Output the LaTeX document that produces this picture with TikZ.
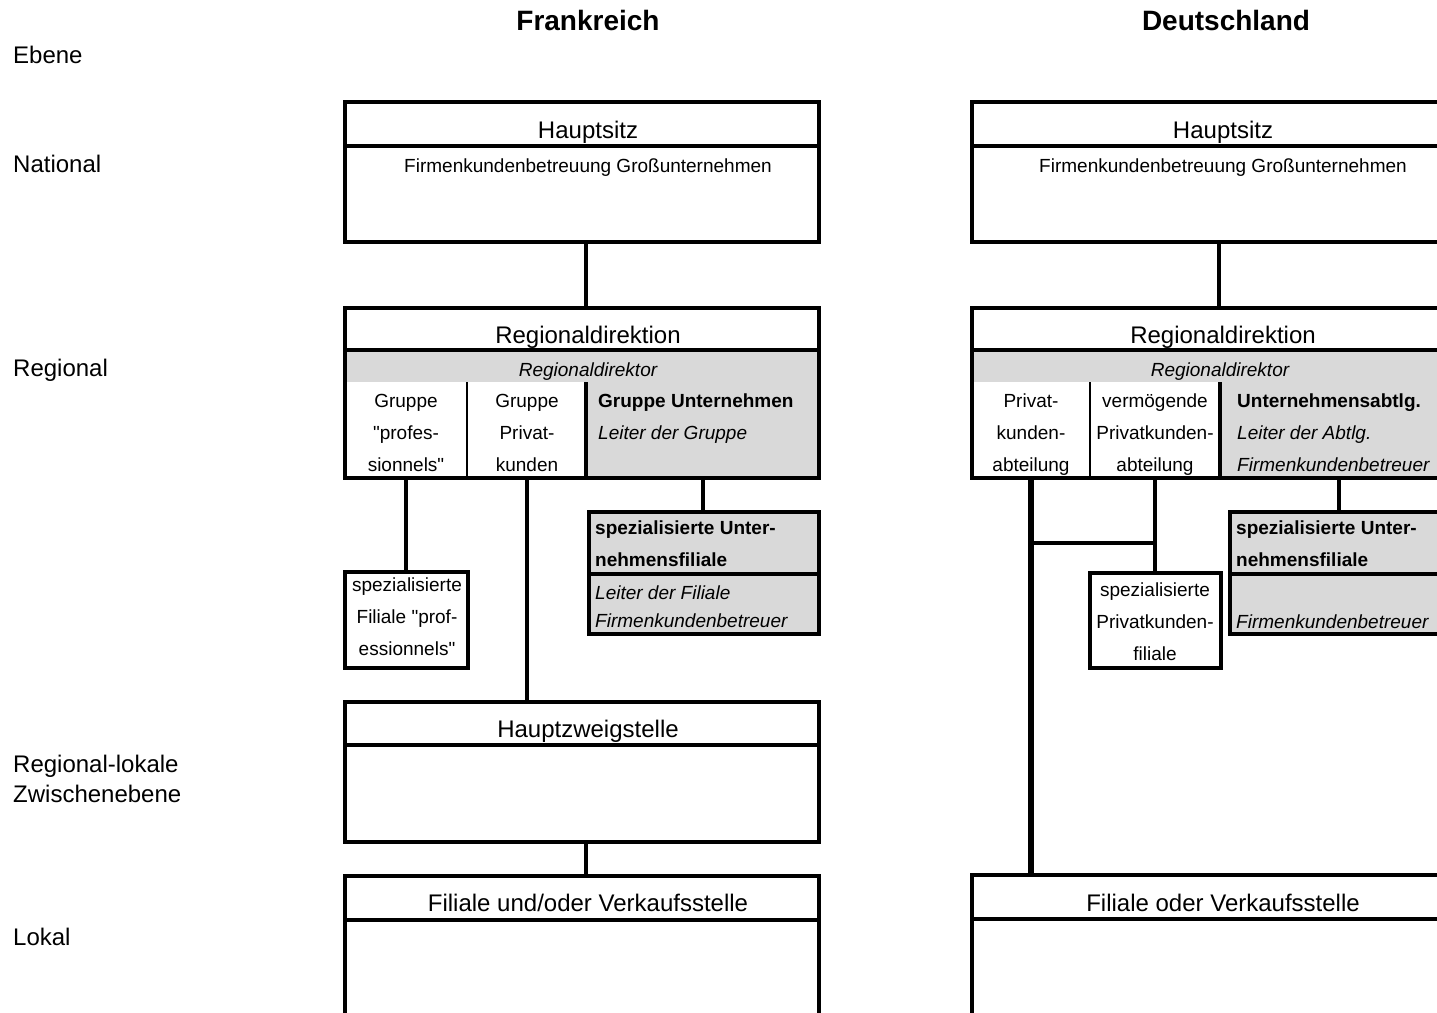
\documentclass[tikz,border=0pt]{standalone}
\usepackage{fontspec}
\setmainfont[Ligatures=TeXOff]{Liberation Sans}
\usetikzlibrary{positioning}

\tikzset{
  box/.style={inner sep=0pt, outer sep=0pt, anchor=north west},
  frame/.style={line width=4pt},
  divider/.style={line width=2.5pt},
  grayfill/.style={fill=black!15},
  link/.style={line width=4pt},
  mainlink/.style={line width=6pt},
  country/.style={inner sep=0pt, anchor=base, font={\fontsize{28}{34}\selectfont\bfseries}},
  levellabel/.style={inner sep=0pt, anchor=base west, align=left, font={\fontsize{24}{30}\selectfont}},
  boxtitle/.style={inner sep=0pt, anchor=base, font={\fontsize{24}{30}\selectfont}},
  note/.style={inner sep=0pt, anchor=base, font={\fontsize{19}{32}\selectfont}},
  celltext/.style={inner sep=0pt, anchor=north, align=center, font={\fontsize{19}{32}\selectfont}},
  lefttext/.style={inner sep=0pt, anchor=north west, align=left, font={\fontsize{19}{32}\selectfont}},
}

\begin{document}
\begin{tikzpicture}[x=1pt, y=-1pt]
  \useasboundingbox (0,0) rectangle (1437,1012);
  \clip (0,0) rectangle (1437,1012);

  \node[country] (fr) at (588,30) {Frankreich};
  \node[country] (de) at (1226,30) {Deutschland};

  \node[levellabel] (ebene) at (13,63) {Ebene};
  \node[levellabel] (national) at (13,172) {National};
  \node[levellabel] (regional) at (13,376) {Regional};
  \node[levellabel, anchor=north west] (zwischen) at (13,755) {Regional-lokale\\Zwischenebene};
  \node[levellabel] (lokal) at (13,945) {Lokal};

  % Frankreich
  \node[box, draw, frame, minimum width=474pt, minimum height=140pt] (hqFR) at (345,102) {};
  \draw[frame] ([yshift=-44pt]hqFR.north west) -- ([yshift=-44pt]hqFR.north east);
  \node[boxtitle] (hqFRt) at (588,138) {Hauptsitz};
  \node[note] (hqFRb) at (588,172) {Firmenkundenbetreuung Großunternehmen};

  \node[box, minimum width=474pt, minimum height=42pt] (rdFR) at (345,308) {};
  \node[box, grayfill, minimum width=474pt, minimum height=32pt] (rdFRboss) at (345,350) {};
  \node[box, minimum width=122pt, minimum height=96pt] (prFR) at (345,382) {};
  \node[box, minimum width=119pt, minimum height=96pt] (pkFR) at (467,382) {};
  \node[box, grayfill, minimum width=233pt, minimum height=96pt] (ugFR) at (586,382) {};
  \draw[frame] (rdFR.north west) rectangle (ugFR.south east);
  \draw[frame] (rdFR.south west) -- (rdFR.south east);
  \draw[divider] (prFR.north east) -- (prFR.south east);
  \draw[frame] (pkFR.north east) -- (pkFR.south east);
  \node[boxtitle] (rdFRt) at (588,343) {Regionaldirektion};
  \node[note, font={\fontsize{19}{32}\selectfont\itshape}] (rdFRbosst) at (588,376) {Regionaldirektor};
  \node[celltext] (prFRt) at (406,394) {Gruppe\\"profes-\\sionnels"};
  \node[celltext] (pkFRt) at (527,394) {Gruppe\\Privat-\\kunden};
  \node[lefttext] (ugFRt) at (598,394) {\textbf{Gruppe Unternehmen}\\\textit{Leiter der Gruppe}};

  \node[box, draw, frame, minimum width=123pt, minimum height=96pt] (spFR) at (345,572) {};
  \node[celltext] (spFRt) at (407,578) {spezialisierte\\Filiale "prof-\\essionnels"};

  \node[box, grayfill, minimum width=230pt, minimum height=62pt] (suFR) at (589,512) {};
  \node[box, grayfill, minimum width=230pt, minimum height=60pt] (suFRb) at (589,574) {};
  \draw[frame] (suFR.north west) rectangle (suFRb.south east);
  \draw[frame] (suFR.south west) -- (suFR.south east);
  \node[lefttext, font={\fontsize{19}{32}\selectfont\bfseries}] (suFRt) at (595,521) {spezialisierte Unter-\\nehmensfiliale};
  \node[lefttext, font={\fontsize{19}{28}\selectfont\itshape}] (suFRbt) at (595,586) {Leiter der Filiale\\Firmenkundenbetreuer};

  \node[box, draw, frame, minimum width=474pt, minimum height=140pt] (hzFR) at (345,702) {};
  \draw[frame] ([yshift=-43pt]hzFR.north west) -- ([yshift=-43pt]hzFR.north east);
  \node[boxtitle] (hzFRt) at (588,737) {Hauptzweigstelle};

  \node[box, draw, frame, minimum width=474pt, minimum height=180pt] (fvFR) at (345,876) {};
  \draw[frame] ([yshift=-44pt]fvFR.north west) -- ([yshift=-44pt]fvFR.north east);
  \node[boxtitle] (fvFRt) at (588,911) {Filiale und/oder Verkaufsstelle};

  \draw[link] ([xshift=4pt]hqFR.south) -- ([xshift=4pt]rdFR.north);
  \draw[link] (prFR.south) -- (prFR.south |- spFR.north);
  \draw[link] (pkFR.south) -- (pkFR.south |- hzFR.north);
  \draw[link] (ugFR.south) -- (ugFR.south |- suFR.north);
  \draw[link] ([xshift=4pt]hzFR.south) -- ([xshift=4pt]fvFR.north);

  % Deutschland
  \node[box, draw, frame, minimum width=486pt, minimum height=140pt] (hqDE) at (972,102) {};
  \draw[frame] ([yshift=-44pt]hqDE.north west) -- ([yshift=-44pt]hqDE.north east);
  \node[boxtitle] (hqDEt) at (1223,138) {Hauptsitz};
  \node[note] (hqDEb) at (1223,172) {Firmenkundenbetreuung Großunternehmen};

  \node[box, minimum width=486pt, minimum height=42pt] (rdDE) at (972,308) {};
  \node[box, grayfill, minimum width=486pt, minimum height=32pt] (rdDEboss) at (972,350) {};
  \node[box, minimum width=118pt, minimum height=96pt] (pkDE) at (972,382) {};
  \node[box, minimum width=130pt, minimum height=96pt] (vpDE) at (1090,382) {};
  \node[box, grayfill, minimum width=238pt, minimum height=96pt] (uaDE) at (1220,382) {};
  \draw[frame] (rdDE.north west) rectangle (uaDE.south east);
  \draw[frame] (rdDE.south west) -- (rdDE.south east);
  \draw[divider] (pkDE.north east) -- (pkDE.south east);
  \draw[frame] (vpDE.north east) -- (vpDE.south east);
  \node[boxtitle] (rdDEt) at (1223,343) {Regionaldirektion};
  \node[note, font={\fontsize{19}{32}\selectfont\itshape}] (rdDEbosst) at (1220,376) {Regionaldirektor};
  \node[celltext] (pkDEt) at (1031,394) {Privat-\\kunden-\\abteilung};
  \node[celltext] (vpDEt) at (1155,394) {vermögende\\Privatkunden-\\abteilung};
  \node[lefttext] (uaDEt) at (1237,394) {\textbf{Unternehmensabtlg.}\\\textit{Leiter der Abtlg.}\\\textit{Firmenkundenbetreuer}};

  \node[box, draw, frame, minimum width=131pt, minimum height=95pt] (spDE) at (1090,573) {};
  \node[celltext] (spDEt) at (1155,583) {spezialisierte\\Privatkunden-\\filiale};

  \node[box, grayfill, minimum width=228pt, minimum height=62pt] (suDE) at (1230,512) {};
  \node[box, grayfill, minimum width=228pt, minimum height=60pt] (suDEb) at (1230,574) {};
  \draw[frame] (suDE.north west) rectangle (suDEb.south east);
  \draw[frame] (suDE.south west) -- (suDE.south east);
  \node[lefttext, font={\fontsize{19}{32}\selectfont\bfseries}] (suDEt) at (1236,521) {spezialisierte Unter-\\nehmensfiliale};
  \node[note, anchor=base west, font={\fontsize{19}{32}\selectfont\itshape}] (suDEbt) at (1236,628) {Firmenkundenbetreuer};

  \node[box, draw, frame, minimum width=486pt, minimum height=180pt] (fvDE) at (972,875) {};
  \draw[frame] ([yshift=-44pt]fvDE.north west) -- ([yshift=-44pt]fvDE.north east);
  \node[boxtitle] (fvDEt) at (1223,911) {Filiale oder Verkaufsstelle};

  \coordinate (forkDE) at (pkDE.south |- 0,543);
  \draw[link] ([xshift=4pt]hqDE.south) -- ([xshift=4pt]rdDE.north);
  \draw[mainlink] (pkDE.south) -- (pkDE.south |- fvDE.north);
  \draw[link] (forkDE) -- (forkDE -| vpDE.south);
  \draw[link] (vpDE.south) -- (vpDE.south |- spDE.north);
  \draw[link] (uaDE.south) -- (uaDE.south |- suDE.north);
\end{tikzpicture}
\end{document}
